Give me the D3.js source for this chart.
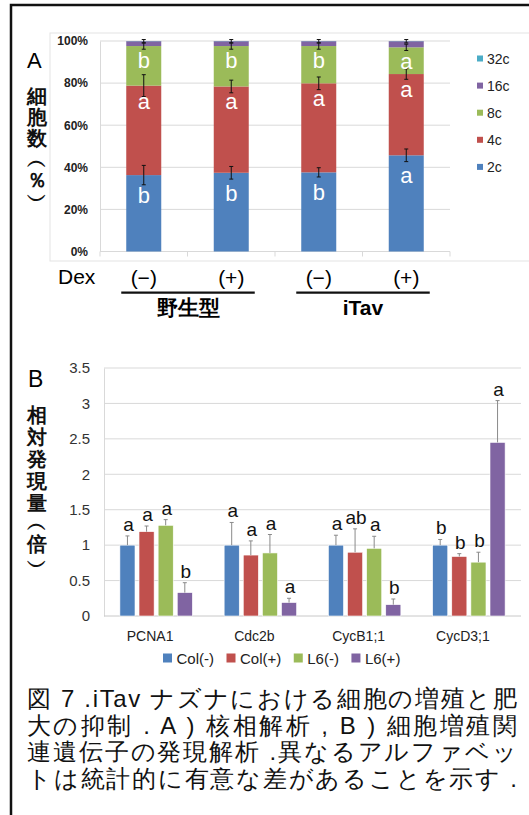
<!DOCTYPE html>
<html><head><meta charset="utf-8">
<script src="https://cdn.jsdelivr.net/npm/d3@7"></script>
<style>
html,body{margin:0;padding:0;background:#fff;}
svg{display:block;}
text{font-family:Arial,"Liberation Sans",sans-serif;}
</style></head><body>
<svg id="fig" width="529" height="815"></svg>
<script>
// ---------- Panel A: ploidy distribution (stacked %) ----------
const dexLabels = ["(−)", "(+)", "(−)", "(+)"];
const strainLabels = ["野生型", "iTav"];
const ploidyClasses = ["2c", "4c", "8c", "16c", "32c"];
const pct2c  = [36.3, 37.4, 37.6, 45.7];
const pct4c  = [42.5, 41.0, 42.3, 38.6];
const pct8c  = [18.8, 19.2, 17.7, 12.7];
const pct16c = [2.3, 2.3, 2.3, 2.9];
const pct32c = [0.1, 0.1, 0.1, 0.1];
const err2c  = [4.6, 3.0, 2.2, 3.0];
const err4c  = [5.2, 3.0, 3.0, 2.5];
const err8c  = [1.5, 1.5, 1.5, 1.5];
const err16c = [0.8, 0.8, 0.8, 0.8];
const sig2c  = ["b", "b", "b", "a"];
const sig4c  = ["a", "a", "a", "a"];
const sig8c  = ["b", "b", "b", "a"];
const pctTicks = [0, 20, 40, 60, 80, 100];
const titleA = ["細", "胞", "数", "︵", "％", "︶"];

// ---------- Panel B: relative expression ----------
const genes = ["PCNA1", "Cdc2b", "CycB1;1", "CycD3;1"];
const lineNames = ["Col(-)", "Col(+)", "L6(-)", "L6(+)"];
const exprColMinus = [1.00, 1.00, 1.00, 1.00];
const exprColPlus  = [1.19, 0.86, 0.90, 0.84];
const exprL6Minus  = [1.28, 0.89, 0.955, 0.76];
const exprL6Plus   = [0.33, 0.19, 0.16, 2.45];
const errColMinus  = [0.13, 0.32, 0.14, 0.08];
const errColPlus   = [0.08, 0.20, 0.33, 0.04];
const errL6Minus   = [0.08, 0.26, 0.17, 0.14];
const errL6Plus    = [0.14, 0.06, 0.08, 0.59];
const sigColMinus  = ["a", "a", "a", "b"];
const sigColPlus   = ["a", "a", "ab", "b"];
const sigL6Minus   = ["a", "a", "a", "b"];
const sigL6Plus    = ["b", "a", "b", "a"];
const exprTicks = [0, 0.5, 1, 1.5, 2, 2.5, 3, 3.5];
const titleB = ["相", "対", "発", "現", "量", "︵", "倍", "︶"];

const captionLines = [
  [["jp", "図"], ["lat", " 7 .iTav "], ["jp", "ナズナにおける細胞の増殖と肥"]],
  [["jp", "大の抑制"], ["lat", " . A ) "], ["jp", "核相解析"], ["lat", " , B ) "], ["jp", "細胞増殖関"]],
  [["jp", "連遺伝子の発現解析"], ["lat", " ."], ["jp", "異なるアルファベッ"]],
  [["jp", "トは統計的に有意な差があることを示す"], ["lat", " ."]]
];

const JP = '"Noto Sans CJK JP","Noto Sans CJK SC",sans-serif';
const SERIF = '"Liberation Serif","DejaVu Serif",serif';
const GRID = "#d9d9d9";

const svg = d3.select("#fig");

// outer frame
svg.append("rect").attr("x", 11).attr("y", 5).attr("width", 540).attr("height", 840)
  .attr("fill", "none").attr("stroke", "#111").attr("stroke-width", 2.5);

// vertical axis title, one glyph per row
function verticalTitle(chars, cx, centers) {
  chars.forEach((c, i) => {
    svg.append("text").attr("x", cx).attr("y", centers[i])
      .attr("text-anchor", "middle").attr("dominant-baseline", "central")
      .attr("font-family", JP).attr("font-weight", "bold").attr("font-size", 20)
      .attr("fill", "#111").text(c);
  });
}

// ================= Panel A =================
const colorA = d3.scaleOrdinal().domain(ploidyClasses)
  .range(["#4f81bd", "#c0504d", "#9bbb59", "#8064a2", "#4bacc6"]);

svg.append("rect").attr("x", 50).attr("y", 33).attr("width", 490).attr("height", 228)
  .attr("fill", "none").attr("stroke", "#e3e3e3").attr("stroke-width", 1);

const xA = d3.scaleBand().domain(d3.range(dexLabels.length)).range([100, 450])
  .paddingInner(0.6).paddingOuter(0.3);
const yA = d3.scaleLinear().domain([0, 100]).range([251.5, 41]);

const gA = svg.append("g");
gA.selectAll("line.grid").data(pctTicks.slice(1)).join("line")
  .attr("x1", 100).attr("x2", 450).attr("y1", d => yA(d)).attr("y2", d => yA(d))
  .attr("stroke", GRID).attr("stroke-width", 1);

const axA = gA.append("g").attr("transform", "translate(100,0)")
  .call(d3.axisLeft(yA).tickValues(pctTicks).tickFormat(d => d + "%").tickSize(0).tickPadding(12));
axA.select(".domain").attr("stroke", GRID);
axA.selectAll("text").attr("font-family", "Arial").attr("font-weight", "bold")
  .attr("font-size", 12).attr("fill", "#222");

gA.append("line").attr("x1", 100).attr("x2", 450).attr("y1", yA(0)).attr("y2", yA(0))
  .attr("stroke", GRID);
gA.selectAll("line.tk").data(d3.range(dexLabels.length + 1)).join("line")
  .attr("x1", i => xA.range()[0] + i * xA.step()).attr("x2", i => xA.range()[0] + i * xA.step())
  .attr("y1", yA(0)).attr("y2", yA(0) + 5).attr("stroke", GRID);

const tableA = dexLabels.map((_, i) => ({
  "2c": pct2c[i], "4c": pct4c[i], "8c": pct8c[i], "16c": pct16c[i], "32c": pct32c[i]
}));
const errA = { "2c": err2c, "4c": err4c, "8c": err8c, "16c": err16c };
const sigA = { "2c": sig2c, "4c": sig4c, "8c": sig8c };
const sigOffset = { "2c": 28, "4c": 23, "8c": 22 };

const stackA = d3.stack().keys(ploidyClasses)(tableA);
stackA.forEach(layer => {
  gA.selectAll(null).data(layer).join("rect")
    .attr("x", (d, i) => xA(i)).attr("width", xA.bandwidth())
    .attr("y", d => yA(d[1])).attr("height", d => yA(d[0]) - yA(d[1]))
    .attr("fill", colorA(layer.key));
});
stackA.forEach(layer => {
  const key = layer.key;
  if (errA[key]) {
    layer.forEach((d, i) => {
      const cx = xA(i) + xA.bandwidth() / 2, e = errA[key][i];
      const y0 = yA(d[1] - e), y1 = yA(Math.min(d[1] + e, 101));
      const g = gA.append("g").attr("stroke", "#111").attr("stroke-width", 1);
      g.append("line").attr("x1", cx).attr("x2", cx).attr("y1", y0).attr("y2", y1);
      g.append("line").attr("x1", cx - 2).attr("x2", cx + 2).attr("y1", y0).attr("y2", y0);
      g.append("line").attr("x1", cx - 2).attr("x2", cx + 2).attr("y1", y1).attr("y2", y1);
    });
  }
  if (sigA[key]) {
    gA.selectAll(null).data(layer).join("text")
      .attr("x", (d, i) => xA(i) + xA.bandwidth() / 2)
      .attr("y", d => yA(d[1]) + sigOffset[key])
      .attr("text-anchor", "middle").attr("font-size", 22).attr("fill", "#fff")
      .text((d, i) => sigA[key][i]);
  }
});

// legend A
const legA = svg.append("g");
ploidyClasses.slice().reverse().forEach((k, j) => {
  const cy = 58.5 + j * 27.1;
  legA.append("rect").attr("x", 477).attr("y", cy - 3).attr("width", 6).attr("height", 6).attr("fill", colorA(k));
  legA.append("text").attr("x", 487).attr("y", cy + 5).attr("font-size", 14).attr("fill", "#222").text(k);
});

svg.append("text").attr("x", 27).attr("y", 68).attr("font-size", 22).text("A");
verticalTitle(titleA, 37, [96, 117, 138, 160, 180, 200]);

// Dex row and strain grouping
svg.append("text").attr("x", 58).attr("y", 284).attr("font-size", 21).text("Dex");
svg.selectAll("text.dex").data(dexLabels).join("text")
  .attr("x", (d, i) => xA(i) + xA.bandwidth() / 2).attr("y", 284.5)
  .attr("text-anchor", "middle").attr("font-size", 21).text(d => d);
strainLabels.forEach((s, k) => {
  const xl = xA(2 * k) - 5, xr = xA(2 * k + 1) + xA.bandwidth() + 6;
  svg.append("line").attr("x1", xl).attr("x2", xr).attr("y1", 292.7).attr("y2", 292.7)
    .attr("stroke", "#111").attr("stroke-width", 2.2);
  svg.append("text").attr("x", (xl + xr) / 2).attr("y", 315)
    .attr("text-anchor", "middle").attr("font-weight", "bold").attr("font-size", 21)
    .attr("font-family", k === 0 ? JP : "Arial").text(s);
});

// ================= Panel B =================
const colorB = d3.scaleOrdinal().domain(lineNames)
  .range(["#4f81bd", "#c0504d", "#9bbb59", "#8064a2"]);
const exprB = [exprColMinus, exprColPlus, exprL6Minus, exprL6Plus];
const errB = [errColMinus, errColPlus, errL6Minus, errL6Plus];
const sigB = [sigColMinus, sigColPlus, sigL6Minus, sigL6Plus];

const x0B = d3.scaleBand().domain(genes).range([104, 521]).paddingInner(0.305).paddingOuter(0.1525);
const x1B = d3.scaleBand().domain(lineNames).range([0, x0B.bandwidth()]).paddingInner(0.21);
const yB = d3.scaleLinear().domain([0, 3.5]).range([616, 368]);

const gB = svg.append("g");
gB.selectAll("line.grid").data(exprTicks.slice(1)).join("line")
  .attr("x1", 104).attr("x2", 521).attr("y1", d => yB(d)).attr("y2", d => yB(d))
  .attr("stroke", GRID);
const axB = gB.append("g").attr("transform", "translate(104,0)")
  .call(d3.axisLeft(yB).tickValues(exprTicks).tickFormat(d3.format("")).tickSize(0).tickPadding(14));
axB.select(".domain").attr("stroke", GRID);
axB.selectAll("text").attr("font-family", "Arial").attr("font-size", 15).attr("fill", "#333");
gB.append("line").attr("x1", 104).attr("x2", 521).attr("y1", yB(0)).attr("y2", yB(0)).attr("stroke", "#c8c8c8");

const tableB = [];
genes.forEach((g, gi) => lineNames.forEach((ln, li) => tableB.push({
  gene: g, line: ln, v: exprB[li][gi], e: errB[li][gi], s: sigB[li][gi]
})));

gB.selectAll("rect.bar").data(tableB).join("rect")
  .attr("x", d => x0B(d.gene) + x1B(d.line)).attr("width", x1B.bandwidth())
  .attr("y", d => yB(d.v)).attr("height", d => yB(0) - yB(d.v))
  .attr("fill", d => colorB(d.line)).attr("stroke", "#fff").attr("stroke-width", 0.6);

tableB.forEach(d => {
  const cx = x0B(d.gene) + x1B(d.line) + x1B.bandwidth() / 2;
  const yt = yB(d.v + d.e);
  gB.append("line").attr("x1", cx).attr("x2", cx).attr("y1", yB(d.v)).attr("y2", yt).attr("stroke", "#8a8a8a");
  gB.append("line").attr("x1", cx - 2).attr("x2", cx + 2).attr("y1", yt).attr("y2", yt).attr("stroke", "#8a8a8a");
  gB.append("text").attr("x", cx + 1).attr("y", yt - 5).attr("text-anchor", "middle")
    .attr("font-size", 19).attr("fill", "#111").text(d.s);
});

gB.selectAll("text.gene").data(genes).join("text")
  .attr("x", d => x0B(d) + x0B.bandwidth() / 2 - 6).attr("y", 641)
  .attr("text-anchor", "middle").attr("font-family", '"Open Sans",sans-serif')
  .attr("font-size", 14).attr("fill", "#222").text(d => d);

// legend B
let lx = 163;
lineNames.forEach(ln => {
  svg.append("rect").attr("x", lx).attr("y", 653.5).attr("width", 9).attr("height", 9).attr("fill", colorB(ln));
  const t = svg.append("text").attr("x", lx + 13.5).attr("y", 663.5)
    .attr("font-family", '"Open Sans",sans-serif').attr("font-size", 15).attr("fill", "#222").text(ln);
  lx = lx + 13.5 + t.node().getComputedTextLength() + 12.5;
});

svg.append("text").attr("x", 28).attr("y", 386.5).attr("font-size", 23).text("B");
verticalTitle(titleB, 37, [415, 437, 459, 481, 503, 523, 544, 566]);

// ================= Caption (justified lines) =================
captionLines.forEach((parts, li) => {
  const y = 707 + li * 26.7;
  const nodes = parts.map(([kind, s]) => svg.append("text").attr("y", y)
    .attr("font-size", 24).attr("fill", "#111")
    .attr("font-family", kind === "jp" ? JP : SERIF)
    .style("white-space", "pre").text(s));
  const widths = nodes.map(n => n.node().getComputedTextLength());
  const nChars = d3.sum(parts, p => [...p[1]].length);
  const ls = (490 - d3.sum(widths)) / (nChars - 1);
  let x = 27;
  nodes.forEach((n, k) => {
    n.attr("x", x).attr("letter-spacing", ls);
    x += widths[k] + ls * [...parts[k][1]].length;
  });
});
</script>
</body></html>
